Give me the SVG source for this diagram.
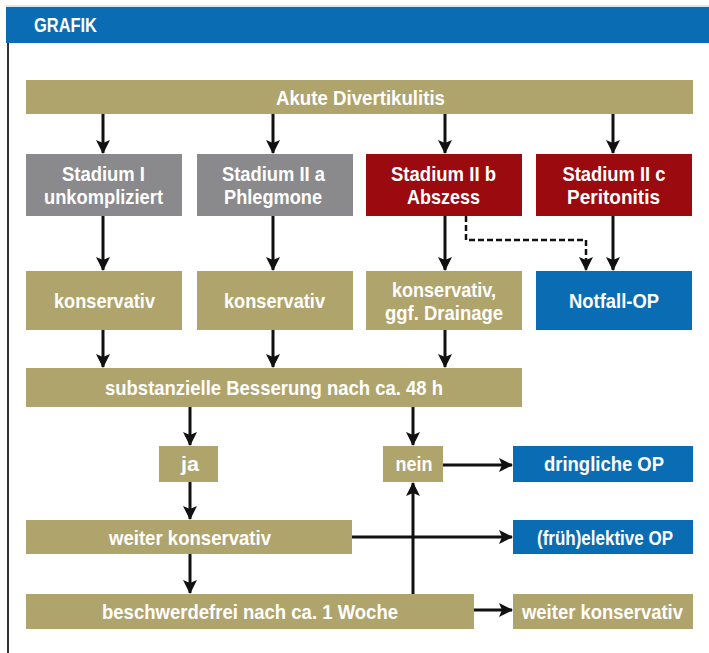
<svg xmlns="http://www.w3.org/2000/svg" width="709" height="653" viewBox="0 0 709 653">
<defs>
<style>
.tan{fill:#b0a46d}
.gray{fill:#8a8a8d}
.red{fill:#9b0a0f}
.blue{fill:#0a6db3}
.t{font-family:"Liberation Sans",Arial,sans-serif;font-weight:bold;font-size:20.5px;fill:#ffffff;text-anchor:middle}
.c{stroke:#111111;stroke-width:3;fill:none;marker-end:url(#ah)}
.d{stroke:#111111;stroke-width:2.5;fill:none;stroke-dasharray:6 3;marker-end:url(#ah)}
</style>
<marker id="ah" viewBox="0 0 14 14" refX="13" refY="7" markerWidth="14" markerHeight="14" markerUnits="userSpaceOnUse" orient="auto">
<path d="M0,0 L14,7 L0,14 L3,7 Z" fill="#111111"/>
</marker>
</defs>
<rect x="0" y="0" width="709" height="653" fill="#ffffff"/>
<g id="header">
<rect x="6" y="7" width="703" height="36" fill="#0a6db3"/>
<line x1="6" y1="6" x2="709" y2="6" stroke="#c8c8c8" stroke-width="1"/>
<line x1="8" y1="43" x2="8" y2="653" stroke="#333333" stroke-width="2"/>
<text x="34" y="32" font-family="Liberation Sans,Arial,sans-serif" font-weight="bold" font-size="20" fill="#ffffff" textLength="63" lengthAdjust="spacingAndGlyphs">GRAFIK</text>
</g>
<g id="connectors">
<line class="c" x1="103" y1="114" x2="103" y2="153"/>
<line class="c" x1="273" y1="114" x2="273" y2="153"/>
<line class="c" x1="445" y1="114" x2="445" y2="153"/>
<line class="c" x1="613" y1="114" x2="613" y2="153"/>
<line class="c" x1="103" y1="216" x2="103" y2="270"/>
<line class="c" x1="273" y1="216" x2="273" y2="270"/>
<line class="c" x1="445" y1="216" x2="445" y2="270"/>
<line class="c" x1="613" y1="216" x2="613" y2="270"/>
<path class="d" d="M466,216 V240 H586 V270"/>
<line class="c" x1="103" y1="330" x2="103" y2="367"/>
<line class="c" x1="273" y1="330" x2="273" y2="367"/>
<line class="c" x1="445" y1="330" x2="445" y2="367"/>
<line class="c" x1="190" y1="407" x2="190" y2="445"/>
<line class="c" x1="413" y1="407" x2="413" y2="445"/>
<line class="c" x1="443" y1="465" x2="512" y2="465"/>
<line class="c" x1="190" y1="482" x2="190" y2="519"/>
<line class="c" x1="352" y1="537" x2="512" y2="537"/>
<line class="c" x1="413" y1="594" x2="413" y2="483"/>
<line class="c" x1="190" y1="554" x2="190" y2="593"/>
<line class="c" x1="474" y1="610" x2="512" y2="610"/>
</g>
<g id="akute"><rect class="tan" x="26" y="80" width="667" height="34"/><text class="t" x="360.5" y="105" textLength="169" lengthAdjust="spacingAndGlyphs">Akute Divertikulitis</text></g>
<g id="stadium1"><rect class="gray" x="26" y="154" width="156" height="62"/><text class="t" x="103.5" y="181" textLength="83" lengthAdjust="spacingAndGlyphs">Stadium I</text><text class="t" x="103.5" y="204" textLength="119" lengthAdjust="spacingAndGlyphs">unkompliziert</text></g>
<g id="stadium2a"><rect class="gray" x="197" y="154" width="156" height="62"/><text class="t" x="273.5" y="181" textLength="103" lengthAdjust="spacingAndGlyphs">Stadium II a</text><text class="t" x="273" y="204" textLength="98" lengthAdjust="spacingAndGlyphs">Phlegmone</text></g>
<g id="stadium2b"><rect class="red" x="366" y="154" width="156" height="62"/><text class="t" x="443.5" y="181" textLength="105" lengthAdjust="spacingAndGlyphs">Stadium II b</text><text class="t" x="443.5" y="204" textLength="73" lengthAdjust="spacingAndGlyphs">Abszess</text></g>
<g id="stadium2c"><rect class="red" x="536" y="154" width="156" height="62"/><text class="t" x="614" y="181" textLength="103" lengthAdjust="spacingAndGlyphs">Stadium II c</text><text class="t" x="613.5" y="204" textLength="93" lengthAdjust="spacingAndGlyphs">Peritonitis</text></g>
<g id="kons1"><rect class="tan" x="26" y="271" width="156" height="59"/><text class="t" x="104.5" y="307.5" textLength="101" lengthAdjust="spacingAndGlyphs">konservativ</text></g>
<g id="kons2"><rect class="tan" x="197" y="271" width="156" height="59"/><text class="t" x="274.5" y="307.5" textLength="101" lengthAdjust="spacingAndGlyphs">konservativ</text></g>
<g id="kons3"><rect class="tan" x="366" y="271" width="156" height="59"/><text class="t" x="444" y="297" textLength="104" lengthAdjust="spacingAndGlyphs">konservativ,</text><text class="t" x="444" y="320" textLength="118" lengthAdjust="spacingAndGlyphs">ggf. Drainage</text></g>
<g id="notfall"><rect class="blue" x="536" y="271" width="156" height="59"/><text class="t" x="614" y="307.5" textLength="90" lengthAdjust="spacingAndGlyphs">Notfall-OP</text></g>
<g id="besserung"><rect class="tan" x="26" y="368" width="496" height="39"/><text class="t" x="274" y="395" textLength="338" lengthAdjust="spacingAndGlyphs">substanzielle Besserung nach ca. 48 h</text></g>
<g id="ja"><rect class="tan" x="159" y="446" width="59" height="36"/><text class="t" x="190" y="471" textLength="18" lengthAdjust="spacingAndGlyphs">ja</text></g>
<g id="nein"><rect class="tan" x="383" y="446" width="60" height="36"/><text class="t" x="414" y="471" textLength="37" lengthAdjust="spacingAndGlyphs">nein</text></g>
<g id="dringlich"><rect class="blue" x="513" y="446" width="180" height="36"/><text class="t" x="604" y="471" textLength="120" lengthAdjust="spacingAndGlyphs">dringliche OP</text></g>
<g id="weiter1"><rect class="tan" x="26" y="520" width="326" height="34"/><text class="t" x="190" y="544.5" textLength="162" lengthAdjust="spacingAndGlyphs">weiter konservativ</text></g>
<g id="elektiv"><rect class="blue" x="513" y="520" width="180" height="34"/><text class="t" x="605" y="544.5" textLength="136" lengthAdjust="spacingAndGlyphs">(früh)elektive OP</text></g>
<g id="beschwerdefrei"><rect class="tan" x="26" y="594" width="448" height="35"/><text class="t" x="250" y="619" textLength="296" lengthAdjust="spacingAndGlyphs">beschwerdefrei nach ca. 1 Woche</text></g>
<g id="weiter2"><rect class="tan" x="513" y="594" width="180" height="35"/><text class="t" x="602.5" y="619" textLength="161" lengthAdjust="spacingAndGlyphs">weiter konservativ</text></g>
</svg>
